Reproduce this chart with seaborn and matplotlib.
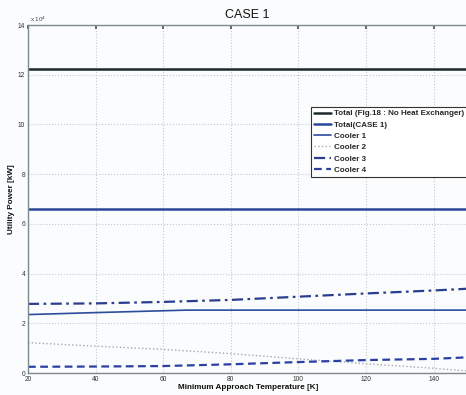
import numpy as np
import pandas as pd
import seaborn as sns
import matplotlib
matplotlib.use("Agg")
import matplotlib.pyplot as plt

# Data (values in units of 1e4 kW)
temps = [20, 40, 60, 80, 100, 120, 140, 150]
total_fig18 = [12.22, 12.22, 12.22, 12.22, 12.22, 12.22, 12.22, 12.22]
total_case1 = [6.59, 6.59, 6.59, 6.59, 6.59, 6.59, 6.59, 6.59]
cooler1_t = [20, 40, 67, 80, 100, 120, 140, 150]
cooler1 = [2.35, 2.43, 2.53, 2.53, 2.53, 2.53, 2.53, 2.53]
cooler2 = [1.22, 1.08, 0.95, 0.78, 0.57, 0.37, 0.19, 0.08]
cooler3 = [2.78, 2.80, 2.86, 2.94, 3.07, 3.20, 3.32, 3.39]
cooler4 = [0.25, 0.26, 0.28, 0.35, 0.44, 0.52, 0.57, 0.63]
labels = ["Total (Fig.18 : No Heat Exchanger)", "Total(CASE 1)", "Cooler 1",
          "Cooler 2", "Cooler 3", "Cooler 4"]

sns.set_theme(style="white")
plt.rcParams['font.family'] = ['Liberation Sans', 'DejaVu Sans']

fig = plt.figure(figsize=(4.66, 3.95), dpi=100)
fig.patch.set_facecolor("#fbfcfd")
ax = fig.add_axes([28/466, 1 - 373/395, 1 - 28/466 + 0.003, (373 - 25)/395])
ax.set_facecolor("#fbfcfd")

scale = 1e4
series = [
    (temps, total_fig18, dict(color="#1c2a2c", lw=1.8, ls="-")),
    (temps, total_case1, dict(color="#2a4699", lw=1.8, ls="-")),
    (cooler1_t, cooler1, dict(color="#2d4c9c", lw=1.2, ls="-")),
    (temps, cooler2, dict(color="#a4a8b8", lw=1.0, ls=":")),
    (temps, cooler3, dict(color="#2b3d8f", lw=1.6, ls=(0, (5, 2, 1.2, 2)))),
    (temps, cooler4, dict(color="#2b40a4", lw=1.6, ls=(0, (3.5, 2)))),
]
for (x, y, st), lab in zip(series, labels):
    sns.lineplot(x=x, y=np.array(y) * scale, ax=ax, label=lab, **st)

ax.set_xlim(20, 150)
ax.set_ylim(0, 14e4)
ax.set_xticks([20, 40, 60, 80, 100, 120, 140])
ax.set_yticks(np.arange(0, 15e4, 2e4))
ax.set_yticklabels([str(v) for v in range(0, 15, 2)])
ax.text(0.005, 1.003, r"x 10$^4$", transform=ax.transAxes, fontsize=4.5,
        color="#444444", va="bottom", ha="left")
ax.tick_params(direction="in", labelsize=4.8, length=3, colors="#555555",
               top=True, right=False, labelcolor="#333333", pad=2)
ax.grid(True, color="#c8c8c8", ls=":", lw=0.8)
for s in ["left", "top", "bottom"]:
    ax.spines[s].set_color("#7d8a8a")
    ax.spines[s].set_linewidth(1.0)
ax.spines["right"].set_visible(False)

ax.set_title("CASE 1", fontsize=9, pad=5, color="#111111")
ax.set_xlabel("Minimum Approach Temperature [K]", fontsize=5.9, fontweight="bold",
              labelpad=1, color="#111111")
ax.set_ylabel("Utility Power [kW]", fontsize=5.9, fontweight="bold",
              labelpad=2, color="#111111")

leg = ax.legend(loc="upper left", fontsize=5.8, frameon=True, fancybox=False,
                handlelength=2.2, handletextpad=0.3, borderpad=0.35, labelspacing=0.45,
                edgecolor="#333333", framealpha=1)
leg.get_frame().set_linewidth(0.8)
leg.set_bbox_to_anchor(((306 - 28) / (466 - 28), (373 - 103) / 348), transform=ax.transAxes)
for t in leg.get_texts():
    t.set_fontweight("bold")

fig.savefig("out.png", dpi=100, facecolor=fig.get_facecolor())
